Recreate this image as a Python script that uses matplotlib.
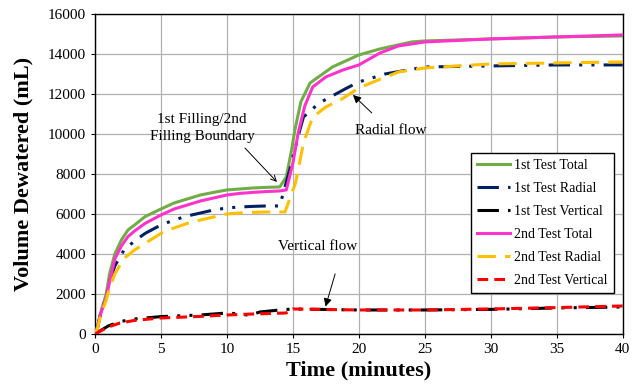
import matplotlib.pyplot as plt
from matplotlib.patches import Rectangle

plt.rcParams['font.family'] = ['Liberation Serif', 'DejaVu Serif']

# 1st test
t1_total = [0, 0.2, 0.4, 0.6, 0.85, 1.1, 1.5, 2.0, 2.5, 3, 3.8, 5, 6, 7, 8, 9, 10, 11, 12, 13, 14,
            14.5, 14.9, 15.15, 15.6, 16.3, 18, 20, 21.6, 24, 25, 30, 35, 40]
y1_total = [0, 400, 1000, 1450, 2000, 3000, 4000, 4700, 5200, 5450, 5870, 6250, 6550, 6750, 6950, 7080, 7200, 7250, 7300, 7330, 7350,
            7850, 9200, 10200, 11600, 12550, 13350, 13950, 14250, 14600, 14650, 14750, 14850, 14900]

t1_radial = [0, 0.2, 0.4, 0.6, 0.85, 1.1, 1.5, 2.2, 3, 3.8, 5, 6, 7, 8, 9, 10, 11, 12, 13, 14,
             14.9, 15.4, 15.8, 17.0, 19.1, 20, 22, 25, 30, 35, 40]
y1_radial = [0, 350, 950, 1350, 1850, 2600, 3400, 4200, 4650, 5030, 5450, 5700, 5900, 6050, 6200, 6300, 6350, 6380, 6400, 6400,
             8550, 9900, 10850, 11550, 12300, 12600, 13000, 13350, 13400, 13450, 13450]

t1_vert = [0, 1.0, 1.9, 3, 5, 8, 10, 11, 11.5, 12, 12.5, 14, 15, 20, 25, 30, 35, 40]
y1_vert = [0, 400, 620, 750, 870, 950, 1050, 1000, 950, 1000, 1100, 1200, 1250, 1200, 1200, 1230, 1300, 1350]

# 2nd test
t2_total = [0, 0.2, 0.4, 0.6, 0.85, 1.1, 1.5, 2.0, 2.5, 3, 3.8, 5, 6, 7, 8, 9, 10, 11, 12, 13, 14,
            14.5, 15.0, 15.4, 15.9, 16.5, 17.5, 18.8, 20, 21.6, 23, 25, 30, 35, 40]
y2_total = [0, 350, 950, 1350, 1800, 2600, 3750, 4400, 4870, 5150, 5530, 5950, 6250, 6450, 6650, 6800, 6950, 7030, 7080, 7120, 7150,
            7200, 8550, 10050, 11400, 12350, 12850, 13200, 13450, 14050, 14400, 14600, 14750, 14850, 14950]

t2_radial = [0, 0.2, 0.4, 0.6, 0.85, 1.1, 1.5, 2.2, 3, 3.4, 5, 6, 7, 8, 9, 10, 11, 12, 13, 14.4,
             15.2, 15.8, 16.5, 17.5, 18.6, 20, 21.1, 23, 25, 30, 35, 40]
y2_radial = [0, 300, 850, 1250, 1700, 2300, 3000, 3780, 4200, 4370, 5030, 5300, 5530, 5700, 5850, 6000, 6050, 6080, 6100, 6100,
             7550, 9550, 10850, 11350, 11700, 12300, 12600, 13100, 13300, 13500, 13550, 13600]

t2_vert = [0, 1.0, 1.9, 3, 5, 8, 10, 12, 14.5, 15, 20, 25, 30, 35, 40]
y2_vert = [0, 350, 550, 680, 800, 880, 950, 1000, 1050, 1250, 1200, 1200, 1250, 1320, 1400]

fig = plt.figure(figsize=(6.42, 3.87), dpi=100)
ax = fig.add_axes([0.148, 0.137, 0.822, 0.827])

ax.plot(t1_total, y1_total, color='#70ad47', lw=2.2, label='1st Test Total', zorder=3)
ax.plot(t1_radial, y1_radial, color='#002060', lw=2.2, dashes=(7, 3, 1, 3, 1, 3), label='1st Test Radial', zorder=3)
ax.plot(t1_vert, y1_vert, color='black', lw=2.2, dashes=(7, 3, 1, 3, 1, 3), label='1st Test Vertical', zorder=3)
ax.plot(t2_total, y2_total, color='#ff33cc', lw=2.2, label='2nd Test Total', zorder=3)
ax.plot(t2_radial, y2_radial, color='#ffc000', lw=2.2, dashes=(6, 3), label='2nd Test Radial', zorder=3)
ax.plot(t2_vert, y2_vert, color='#ff0000', lw=2.2, dashes=(3.5, 2), label='2nd Test Vertical', zorder=3)

ax.set_xlim(0, 40)
ax.set_ylim(0, 16000)
ax.set_xticks(range(0, 41, 5))
ax.set_yticks(range(0, 16001, 2000))
ax.grid(True, color='#b0b0b0', lw=0.9)
ax.tick_params(labelsize=11, direction='out', length=3)
for s in ax.spines.values():
    s.set_color('black')
    s.set_linewidth(1.0)

ax.set_xlabel('Time (minutes)', fontsize=16, fontweight='bold', labelpad=3)
ax.set_ylabel('Volume Dewatered (mL)', fontsize=16, fontweight='bold', labelpad=10)

# white text boxes (cover the grid, as in the original)
for (x0, y0, w, h) in [(3.41, 9350, 10.0, 1850), (19.09, 9450, 9.7, 1500), (14.24, 3050, 9.85, 2050)]:
    ax.add_patch(Rectangle((x0, y0), w, h, facecolor='white', edgecolor='none', zorder=1.5))

ax.text(8.1, 10300, '1st Filling/2nd\nFilling Boundary', ha='center', va='center', fontsize=11,
        linespacing=1.35, zorder=4)
ax.text(22.4, 10150, 'Radial flow', ha='center', va='center', fontsize=11, zorder=4)
ax.text(16.9, 4350, 'Vertical flow', ha='center', va='center', fontsize=11, zorder=4)

ax.annotate('', xy=(13.79, 7600), xytext=(11.36, 9300), zorder=4,
            arrowprops=dict(arrowstyle='->', color='black', lw=0.7, shrinkA=0, shrinkB=0))
ax.annotate('', xy=(19.55, 11950), xytext=(20.98, 11050), zorder=4,
            arrowprops=dict(arrowstyle='-|>', color='black', lw=0.7, shrinkA=0, shrinkB=0, mutation_scale=12))
ax.annotate('', xy=(17.47, 1370), xytext=(18.2, 3000), zorder=4,
            arrowprops=dict(arrowstyle='-|>', color='black', lw=0.7, shrinkA=0, shrinkB=0, mutation_scale=12))

leg = ax.legend(loc='upper left', bbox_to_anchor=(0.712, 0.566),
                fontsize=10, frameon=True, fancybox=False, framealpha=1, edgecolor='black',
                handlelength=2.4, borderpad=0.45, labelspacing=0.72, handletextpad=0.25,
                borderaxespad=0)
leg.get_frame().set_linewidth(1.0)
leg.set_zorder(5)

fig.savefig('out.png', dpi=100)
